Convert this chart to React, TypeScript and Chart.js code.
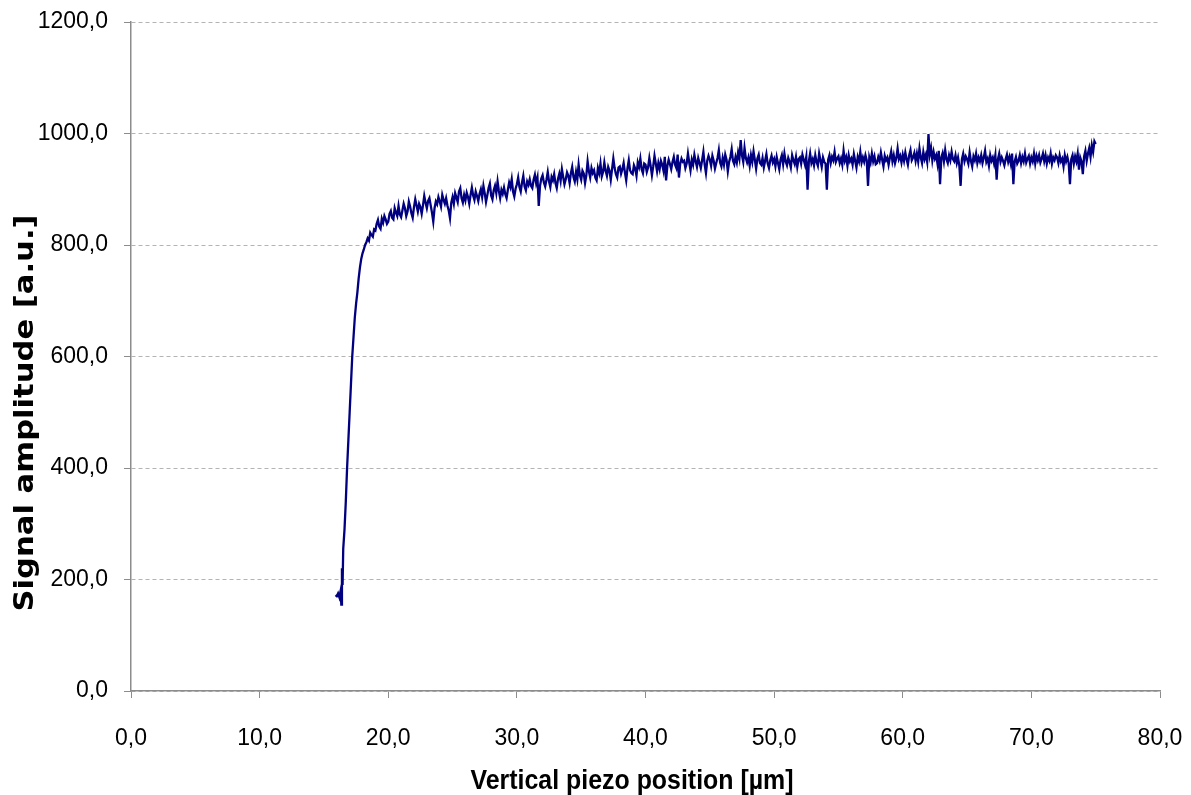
import React, { useEffect, useRef } from "react";
import { Chart, registerables } from "chart.js";

Chart.register(...registerables);

// Steep rising edge (x in µm, signal in a.u.)
const riseX = [15.9, 16.0, 16.1, 16.2, 16.3, 16.35, 16.4, 16.45, 16.5, 16.6, 16.7, 16.8, 16.9, 17.0, 17.1, 17.2, 17.3, 17.4, 17.5, 17.6, 17.7, 17.8, 17.9, 18.0, 18.1, 18.2, 18.3, 18.4, 18.5, 18.6, 18.7];
const riseY = [172, 170, 175, 168, 180, 155, 220, 190, 255, 290, 340, 400, 450, 500, 550, 600, 635, 670, 695, 715, 740, 760, 775, 785, 792, 800, 805, 812, 808, 822, 818];

// Plateau sampled every 0.1 µm from 18.8 µm
const plateauStart = 18.8;
const plateauStep = 0.1;
const plateauY = [
  815, 828,
  826, 838, 845, 833, 829, 847, 840, 852, 846, 838,
  842, 856, 861, 849, 846, 866, 858, 852, 870, 855,
  850, 862, 874, 866, 852, 860, 878, 869, 857, 849,
  868, 882, 871, 860, 874, 868, 856, 871, 888, 876,
  866, 879, 884, 871, 858, 842, 866, 878, 873, 886,
  878, 869, 890, 881, 874, 884, 871, 862, 848, 876,
  886, 874, 893, 885, 877, 896, 902, 884, 876, 890,
  880, 894, 886, 874, 890, 903, 889, 881, 896, 888,
  879, 892, 900, 886, 906, 893, 877, 889, 902, 910,
  889, 882, 898, 906, 893, 914, 897, 884, 899, 892,
  903, 891, 884, 899, 912, 904, 918, 896, 887, 901,
  909, 921, 904, 896, 912, 924, 905, 898, 914, 908,
  918, 906, 902, 917, 926, 911, 921, 870, 906, 919,
  925, 912, 905, 917, 931, 914, 904, 922, 916, 927,
  911, 902, 919, 928, 915, 936, 922, 909, 918, 930,
  924, 911, 929, 940, 922, 914, 931, 918, 944, 925,
  917, 933, 928, 911, 925, 950, 932, 921, 938, 929,
  934, 921, 916, 938, 929, 946, 923, 931, 948, 933,
  924, 940, 933, 917, 936, 955, 938, 927, 921, 939,
  941, 928, 936, 947, 930, 916, 938, 952, 934, 929,
  927, 943, 937, 924, 948, 940, 955, 936, 929, 946,
  944, 931, 939, 956, 942, 925, 941, 960, 946, 932,
  947, 936, 951, 944, 933, 958, 916, 942, 953, 945,
  936, 949, 958, 944, 938, 962, 921, 946, 955, 949,
  951, 938, 946, 964, 948, 934, 953, 944, 962, 950,
  940, 956, 947, 938, 952, 967, 944, 929, 951, 960,
  953, 942, 960, 951, 937, 947, 956, 970, 948, 941,
  956, 944, 962, 953, 932, 949, 958, 972, 951, 945,
  958, 948, 966, 955, 988, 961, 949, 974, 956, 948,
  957, 942, 961, 949, 968, 953, 937, 955, 962, 947,
  944, 956, 939, 951, 963, 946, 938, 952, 960, 948,
  954, 941, 958, 947, 936, 953, 961, 945, 964, 950,
  943, 956, 949, 939, 961, 952, 945, 958, 940, 954,
  957, 946, 962, 953, 944, 958, 899, 950, 964, 947,
  954, 943, 961, 949, 942, 964, 952, 940, 957, 949,
  946, 899, 953, 961, 947, 958, 952, 967, 949, 955,
  959, 947, 955, 944, 969, 951, 958, 942, 961, 950,
  955, 944, 963, 951, 939, 958, 950, 967, 948, 957,
  949, 961, 952, 906, 957, 948, 964, 950, 959, 945,
  947, 958, 951, 966, 953, 941, 960, 952, 957, 944,
  957, 968, 950, 961, 947, 956, 973, 954, 960, 948,
  962, 951, 966, 954, 944, 961, 970, 952, 957, 965,
  951, 964, 950, 973, 957, 947, 967, 954, 962, 949,
  999, 962, 974, 952, 967, 955, 961, 946, 969, 909,
  957, 965, 950, 970, 954, 947, 961, 952, 967, 954,
  950, 961, 947, 957, 942, 906, 954, 964, 950, 959,
  954, 946, 966, 951, 941, 959, 952, 964, 947, 957,
  950, 961, 947, 957, 969, 949, 955, 942, 961, 951,
  957, 946, 961, 917, 954, 964, 949, 957, 951, 943,
  954, 962, 949, 958, 946, 964, 909, 950, 958, 946,
  951, 961, 947, 958, 950, 964, 948, 955, 960, 946,
  957, 950, 964, 946, 960, 952, 961, 948, 955, 964,
  950, 961, 946, 957, 951, 964, 946, 957, 952, 961,
  957, 947, 961, 950, 955, 941, 961, 950, 958, 947,
  909, 954, 961, 946, 959, 950, 964, 935, 957, 950,
  927, 959, 969, 951, 964, 974, 958, 979, 967, 986,
  981,
];

const xTitle = "Vertical piezo position [µm]";
const yTitle = "Signal amplitude [a.u.]";
const xMin = 0, xMax = 80, xStepTick = 10;
const yMin = 0, yMax = 1200, yStepTick = 200;

const fmt = (v: number | string) => Number(v).toFixed(1).replace(".", ",");

const axisTitlePlugin = {
  id: "axisTitles",
  afterDraw(chart: any) {
    const ctx = chart.ctx as CanvasRenderingContext2D;
    ctx.save();
    ctx.fillStyle = "#000";
    // x title
    ctx.font = "bold 28px 'Liberation Sans', Arial, sans-serif";
    ctx.textAlign = "center";
    ctx.textBaseline = "alphabetic";
    const wx = ctx.measureText(xTitle).width;
    ctx.save();
    ctx.translate(632, 789);
    ctx.scale(323 / wx, 1);
    ctx.fillText(xTitle, 0, 0);
    ctx.restore();
    // y title
    ctx.font = "bold 27px 'DejaVu Sans', Verdana, sans-serif";
    const wy = ctx.measureText(yTitle).width;
    ctx.save();
    ctx.translate(33, 413);
    ctx.rotate(-Math.PI / 2);
    ctx.scale(397 / wy, 1);
    ctx.fillText(yTitle, 0, 0);
    ctx.restore();
    ctx.restore();
  },
};

export default function App() {
  const ref = useRef<HTMLCanvasElement>(null);
  useEffect(() => {
    if (!ref.current) return;
    const pts = riseX.map((x, i) => ({ x, y: riseY[i] })).concat(
      plateauY.map((y, i) => ({ x: +(plateauStart + i * plateauStep).toFixed(2), y }))
    );
    const tickFont = { family: "'Liberation Sans', Arial, sans-serif", size: 23 };
    const chart = new Chart(ref.current, {
      type: "line",
      data: {
        datasets: [
          {
            data: pts,
            borderColor: "#000080",
            borderWidth: 2.3,
            pointRadius: 0,
            tension: 0,
            fill: false,
          },
        ],
      },
      options: {
        animation: false,
        responsive: false,
        maintainAspectRatio: false,
        layout: { padding: { left: 0, right: 31, top: 22, bottom: 0 } },
        plugins: { legend: { display: false }, tooltip: { enabled: false } },
        scales: {
          x: {
            type: "linear",
            min: xMin,
            max: xMax,
            afterFit: (s: any) => { s.height = 104; s.paddingLeft = 0; s.paddingRight = 0; },
            ticks: { stepSize: xStepTick, color: "#000", font: tickFont, padding: 27, maxRotation: 0, callback: (v: any) => fmt(v) },
            grid: { display: true, drawOnChartArea: false, drawTicks: true, tickLength: 7, tickColor: "#8c8c8c", tickWidth: 1 },
            border: { display: true, color: "#8c8c8c", width: 1.5 },
          },
          y: {
            type: "linear",
            min: yMin,
            max: yMax,
            afterFit: (s: any) => { s.width = 131; s.paddingTop = 0; s.paddingBottom = 0; },
            ticks: { stepSize: yStepTick, color: "#000", font: tickFont, padding: 16, callback: (v: any) => fmt(v) },
            grid: { display: true, drawOnChartArea: true, drawTicks: true, tickLength: 7, color: "#b4b4b4", lineWidth: 1, tickColor: "#8c8c8c", tickWidth: 1, tickBorderDash: [] },
            border: { display: true, color: "#8c8c8c", width: 1.5, dash: [4, 3] },
          },
        },
      },
      plugins: [axisTitlePlugin],
    } as any);
    return () => chart.destroy();
  }, []);
  return (
    <div style={{ position: "absolute", left: 0, top: 0, width: 1191, height: 795, background: "#fff" }}>
      <canvas ref={ref} width={1191} height={795} />
    </div>
  );
}
